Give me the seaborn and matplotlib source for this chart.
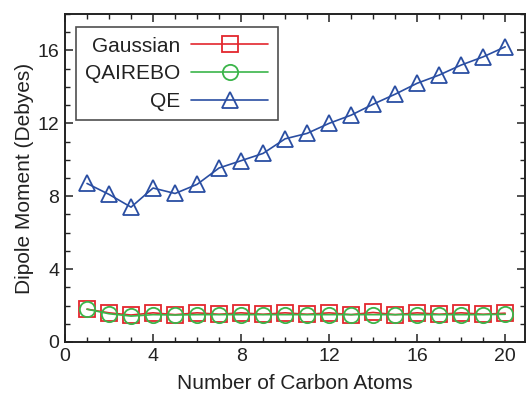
import matplotlib
matplotlib.use("Agg")
import matplotlib.pyplot as plt
import seaborn as sns
import pandas as pd
from matplotlib.ticker import MultipleLocator

carbon_atoms = list(range(1, 21))
gaussian = [1.8, 1.6, 1.48, 1.6, 1.5, 1.6, 1.52, 1.6, 1.52, 1.6,
            1.52, 1.6, 1.5, 1.62, 1.5, 1.6, 1.52, 1.6, 1.52, 1.58]
qairebo = [1.8, 1.55, 1.42, 1.5, 1.48, 1.5, 1.5, 1.5, 1.5, 1.5,
           1.5, 1.5, 1.5, 1.5, 1.5, 1.5, 1.5, 1.5, 1.5, 1.52]
qe = [8.7, 8.1, 7.4, 8.45, 8.15, 8.65, 9.55, 9.95, 10.35, 11.15,
      11.45, 12.0, 12.45, 13.05, 13.6, 14.2, 14.65, 15.2, 15.65, 16.2]
series_names = ["Gaussian", "QAIREBO", "QE"]

sns.set_theme(style="ticks")
plt.rcParams["font.family"] = ["Liberation Sans", "DejaVu Sans"]

colors = {"Gaussian": "#e3262d", "QAIREBO": "#3bb54a", "QE": "#2a4ea2"}
markers = {"Gaussian": "s", "QAIREBO": "o", "QE": "^"}
msizes = {"Gaussian": 11.5, "QAIREBO": 11, "QE": 12}

df = pd.DataFrame({
    "x": carbon_atoms * 3,
    "y": gaussian + qairebo + qe,
    "series": sum([[n] * len(carbon_atoms) for n in series_names], []),
})

fig = plt.figure(figsize=(5.26, 3.96), dpi=100)
ax = fig.add_axes([0.1236, 0.1364, 0.8745, 0.8282])

for name in series_names:
    sub = df[df["series"] == name]
    sns.lineplot(data=sub, x="x", y="y", ax=ax, color=colors[name],
                 marker=markers[name], markersize=msizes[name],
                 markerfacecolor="none", markeredgecolor=colors[name],
                 markeredgewidth=1.3, linewidth=1.2, label=name)

ax.set_xlim(0, 20.9)
ax.set_ylim(0, 18)
ax.xaxis.set_major_locator(MultipleLocator(4))
ax.xaxis.set_minor_locator(MultipleLocator(1))
ax.yaxis.set_major_locator(MultipleLocator(4))
ax.yaxis.set_minor_locator(MultipleLocator(1))
ax.tick_params(which="both", direction="in", top=True, right=True,
               color="#222222", labelsize=14, labelcolor="#222222")
ax.tick_params(which="major", length=6, width=1.1, pad=4)
ax.tick_params(which="minor", length=3.5, width=1.0)
for s in ax.spines.values():
    s.set_color("#222222")
    s.set_linewidth(1.4)

ax.set_xlabel("Number of Carbon Atoms", fontsize=15, color="#222222", labelpad=7)
ax.set_ylabel("Dipole Moment (Debyes)", fontsize=15, color="#222222", labelpad=3)

leg = ax.legend(loc="upper left", bbox_to_anchor=(0.024, 0.96),
                markerfirst=False, fontsize=15, frameon=True, fancybox=False,
                edgecolor="#222222", handlelength=3.7, handletextpad=0.5,
                borderpad=0.45, labelspacing=0.42, borderaxespad=0)
leg.get_frame().set_linewidth(1.2)
for t in leg.get_texts():
    t.set_color("#222222")

fig.savefig("out.png", dpi=100)
